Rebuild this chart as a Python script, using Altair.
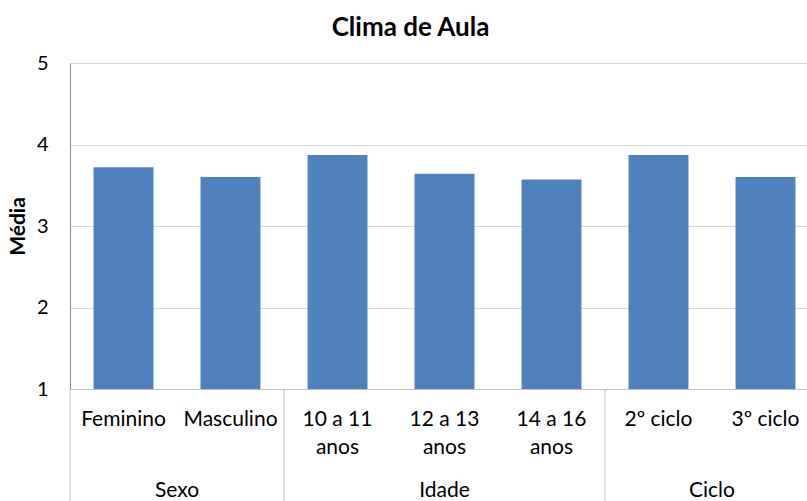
import altair as alt
import pandas as pd

# Categories (line breaks mark the two-line labels) and their mean scores
categorias = ["Feminino", "Masculino", "10 a 11\nanos", "12 a 13\nanos",
              "14 a 16\nanos", "2º ciclo", "3º ciclo"]
medias = [3.72, 3.60, 3.87, 3.64, 3.57, 3.87, 3.60]

# Grouping of the categories along the x axis
grupos = ["Sexo", "Idade", "Ciclo"]
grupo_inicio = [0, 2, 5]
grupo_fim = [2, 5, 7]

FONT = "Lato"
BLUE = "#4F81BD"
STEP_RANGE = [0, 749]
LABEL_SIZE = 21

barras_df = pd.DataFrame({"cat": categorias, "media": medias})
grupos_df = pd.DataFrame({"grupo": grupos, "ini": grupo_inicio, "fim": grupo_fim})
limites_df = pd.DataFrame({"pos": grupo_inicio})

band_scale = alt.Scale(range=STEP_RANGE, paddingInner=0.44, paddingOuter=0.22)

barras = alt.Chart(barras_df).mark_bar(color=BLUE).encode(
    x=alt.X("cat:N", sort=categorias, scale=band_scale,
            axis=alt.Axis(labels=False, ticks=False, title=None,
                          domainColor="#BFBFBF", domainWidth=1)),
    y=alt.Y(
        "media:Q",
        scale=alt.Scale(domain=[1, 5], zero=False, nice=False),
        axis=alt.Axis(values=[1, 2, 3, 4, 5], title="Média", ticks=False,
                      labelPadding=22, labelFontSize=20, labelFont=FONT,
                      labelColor="#000000", titleFont=FONT, titleFontSize=21,
                      titleFontWeight="bold", titleColor="#000000",
                      titlePadding=8, domainColor="#868686",
                      gridColor="#D9D9D9", format="d"),
    ),
    y2=alt.datum(1),
)

rotulos = alt.Chart(barras_df).mark_text(
    font=FONT, fontSize=LABEL_SIZE, color="#000000", lineBreak="\n",
    baseline="middle", lineHeight=28,
).encode(
    x=alt.X("cat:N", sort=categorias, scale=band_scale, axis=None),
    y=alt.value(357),
    text="cat:N",
)

x_lin = alt.Scale(domain=[0, 7], range=STEP_RANGE, zero=False, nice=False)

rotulos_grupo = alt.Chart(grupos_df).transform_calculate(
    meio="(datum.ini + datum.fim) / 2"
).mark_text(font=FONT, fontSize=LABEL_SIZE, color="#000000", baseline="middle").encode(
    x=alt.X("meio:Q", scale=x_lin, axis=None),
    y=alt.value(428),
    text="grupo:N",
)

separadores = alt.Chart(limites_df).mark_rule(color="#BFBFBF", strokeWidth=1).encode(
    x=alt.X("pos:Q", scale=x_lin, axis=None),
    y=alt.value(326),
    y2=alt.value(440),
)

chart = (
    alt.layer(barras, rotulos, rotulos_grupo, separadores)
    .resolve_scale(x="independent")
    .properties(
        width=737,
        height=326,
        padding={"left": 70, "top": 63, "right": 0, "bottom": 112},
        autosize=alt.AutoSizeParams(type="none"),
        title=alt.Title("Clima de Aula", font=FONT, fontSize=26,
                        fontWeight="bold", color="#000000", offset=12, dx=-28),
    )
    .configure_view(stroke=None)
    .configure(background="white")
)

chart.save("out.html", embed_options={"renderer": "svg", "actions": False})
